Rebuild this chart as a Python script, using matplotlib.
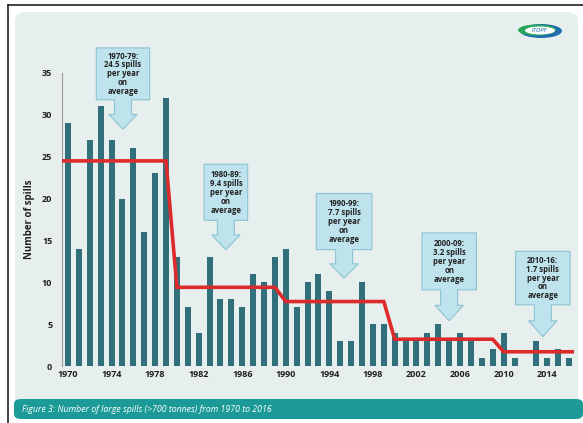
import numpy as np
import matplotlib.pyplot as plt
from matplotlib.patches import FancyBboxPatch, Polygon, Ellipse

years = list(range(1970, 2017))
spills = [29, 14, 27, 31, 27, 20, 26, 16, 23, 32,
          13, 7, 4, 13, 8, 8, 7, 11, 10, 13,
          14, 7, 10, 11, 9, 3, 3, 10, 5, 5,
          4, 3, 3, 4, 5, 3, 4, 3, 1, 2,
          4, 1, 0, 3, 1, 2, 1]

# decade averages (start year, end year, value)
avg_start = [1970, 1980, 1990, 2000, 2010]
avg_end = [1979, 1989, 1999, 2009, 2016]
avg_value = [24.5, 9.4, 7.7, 3.2, 1.7]

callout_text = ["1970-79:\n24.5 spills\nper year\non\naverage",
                "1980-89:\n9.4 spills\nper year\non\naverage",
                "1990-99:\n7.7 spills\nper year\non\naverage",
                "2000-09:\n3.2 spills\nper year\non\naverage",
                "2010-16:\n1.7 spills\nper year\non\naverage"]
# box: x0, x1, y_top, y_bottom, arrow tip
callout_box = [(1972.6, 1977.5, 38.0, 31.8, 28.3),
               (1982.5, 1986.5, 24.1, 17.4, 13.9),
               (1992.8, 1997.9, 20.6, 13.9, 10.5),
               (2002.5, 2007.5, 15.9, 9.1, 5.4),
               (2011.1, 2016.1, 13.7, 7.3, 3.5)]

W, H = 583, 423
fig = plt.figure(figsize=(W / 100, H / 100), dpi=100)
fig.patch.set_facecolor('white')

# outer frame lines
fig.add_artist(plt.Line2D([8 / W, 8 / W], [0, 1 - 5 / H], color='#222222', lw=1.2, zorder=-5))
fig.add_artist(plt.Line2D([8 / W, 1], [1 - 5 / H, 1 - 5 / H], color='#222222', lw=1.2, zorder=-5))

# light panel
panel = FancyBboxPatch((15 / W, 6 / H), 1 - 20 / W, 1 - 18 / H,
                       boxstyle='round,pad=0,rounding_size=0.02',
                       transform=fig.transFigure, fc='#e7efee', ec='none', zorder=-5)
fig.add_artist(panel)

# caption bar
bar = FancyBboxPatch((14 / W, 4 / H), 1 - 14 / W, 20 / H,
                     boxstyle='round,pad=0,rounding_size=0.012',
                     transform=fig.transFigure, fc='#1c9a98', ec='none', zorder=-4)
fig.add_artist(bar)
fig.text(22 / W, 14 / H, 'Figure 3: Number of large spills (>700 tonnes) from 1970 to 2016',
         color='white', fontsize=6.3, style='italic', va='center', family='Open Sans')

# logo
fig.add_artist(Ellipse((541 / W, 1 - 31 / H), 42 / W, 14 / H, transform=fig.transFigure,
                       fc='#1f6fb0', ec='none'))
fig.add_artist(Ellipse((537 / W, 1 - 30 / H), 38 / W, 11 / H, transform=fig.transFigure,
                       fc='#2aa65a', ec='none'))
fig.add_artist(Ellipse((540 / W, 1 - 30.5 / H), 30 / W, 8 / H, transform=fig.transFigure,
                       fc='white', ec='none'))
fig.text(540 / W, 1 - 30.5 / H, 'ITOPF', color='#1f6fb0', fontsize=4, style='italic',
         ha='center', va='center')

ax = fig.add_axes([62 / W, 57 / H, 516 / W, 293 / H])
ax.set_facecolor('none')
ax.set_xlim(1969.45, 2016.83)
ax.set_ylim(0, 35)

ax.bar(years, spills, width=0.55, color='#31707b', zorder=2)

# red step line with sloped drops
lx = []
ly = []
for i in range(len(avg_value)):
    lx.append(avg_start[i] if i > 0 else 1969.5)
    ly.append(avg_value[i])
    lx.append(avg_end[i])
    ly.append(avg_value[i])
lx[-1] = 2016.3
ax.plot(lx, ly, color='#dc2b2b', lw=2.6, zorder=3, solid_joinstyle='miter')

# callouts
for txt, (x0, x1, yt, yb, tip) in zip(callout_text, callout_box):
    xc = (x0 + x1) / 2
    shaft = 0.78
    head = 1.3
    yh = yb - (yb - tip) * 0.5
    pts = [(x0, yt), (x1, yt), (x1, yb), (xc + shaft, yb), (xc + shaft, yh),
           (xc + head, yh), (xc, tip), (xc - head, yh), (xc - shaft, yh),
           (xc - shaft, yb), (x0, yb)]
    ax.add_patch(Polygon(pts, closed=True, fc='#bfe3ec', ec='#8cc3d3', lw=0.8,
                         zorder=4, clip_on=False))
    ax.text(xc, (yt + yb) / 2, txt, ha='center', va='center', fontsize=5.6,
            fontweight='bold', color='#222222', linespacing=0.98, zorder=5,
            family='Open Sans')

ax.set_xticks(list(range(1970, 2017, 4)))
ax.set_yticks(list(range(0, 36, 5)))
ax.tick_params(length=0, labelsize=6.5, colors='#222222')
ax.tick_params(axis='y', pad=7)
ax.tick_params(axis='x', pad=3)
for lab in ax.get_xticklabels() + ax.get_yticklabels():
    lab.set_fontweight('bold')
    lab.set_family('Open Sans')
for s in ['top', 'right', 'bottom']:
    ax.spines[s].set_visible(False)
ax.spines['left'].set_color('#9a9a9a')
ax.spines['left'].set_linewidth(0.8)
ax.set_ylabel('Number of spills', fontsize=7, fontweight='bold', family='Open Sans',
              color='#222222', labelpad=5)

fig.savefig('out.png', dpi=100, facecolor=fig.get_facecolor())
